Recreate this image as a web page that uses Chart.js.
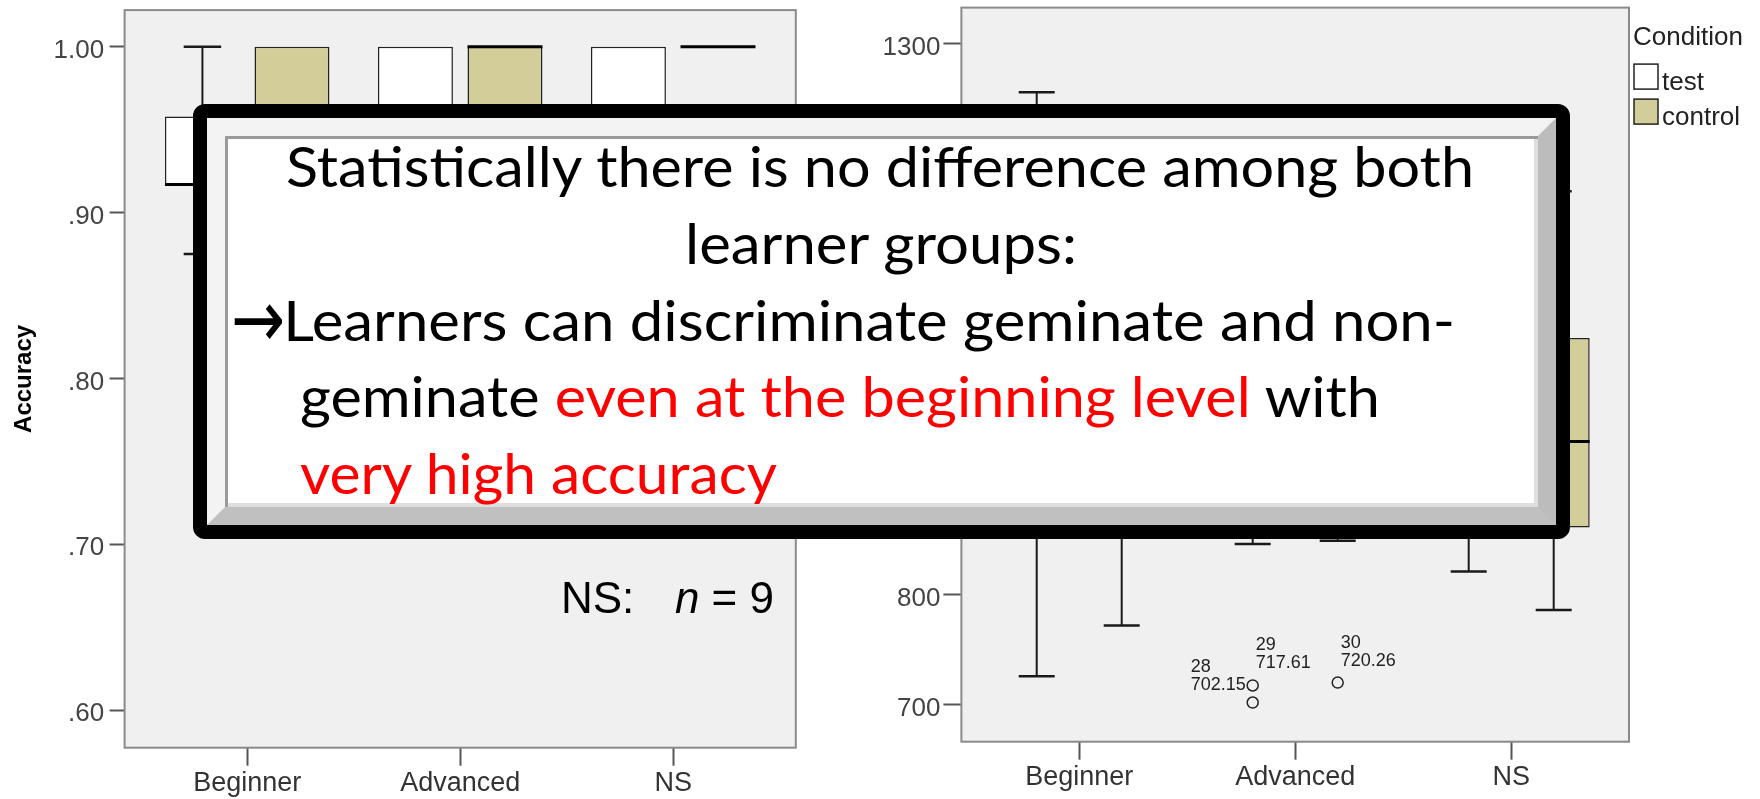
<!DOCTYPE html>
<html>
<head>
<meta charset="utf-8">
<script src="https://cdn.jsdelivr.net/npm/chart.js@4.4.1/dist/chart.umd.min.js"></script>
<style>
  html, body { margin: 0; padding: 0; background: #fff; width: 1760px; height: 799px; overflow: hidden; }
  /* canvases start a little above the page so the plot tops land where the slide has them */
  #accChart { position: absolute; left: 0; top: -11px; }
  #rtChart { position: absolute; left: 880px; top: -11px; }
  #note { position: absolute; left: 193px; top: 104px; width: 1377px; height: 435px; box-sizing: border-box;
          border: 14px solid #000; border-radius: 12px; background: #fff; }
  #bevel { position: absolute; left: 0; top: 0; right: 0; bottom: 0; border: 18px solid;
           border-color: #f3f3f3 #bcbcbc #c0c0c0 #f3f3f3;
           box-shadow: inset 3px 3px 0 #9a9a9a, inset -4px -4px 0 #dedede; }
  .line { position: absolute; white-space: nowrap; font-family: Lato, "Open Sans", sans-serif; font-size: 56px;
          line-height: 56px; color: #000; transform-origin: 0 0; }
  .red { color: #f00; }
  .arrow { font-family: "DejaVu Sans", sans-serif; display: inline-block; transform: translateY(-3px) scale(1.08, 1.45); }
</style>
</head>
<body>
<canvas id="accChart" width="860" height="810"></canvas>
<canvas id="rtChart" width="880" height="810"></canvas>
<div id="note"><div id="bevel"></div></div>
<div class="line" data-left="286" data-width="1188" data-baseline="188">Statistically there is no difference among both</div>
<div class="line" data-left="685" data-width="392" data-baseline="265">learner groups:</div>
<div class="line" data-left="233" data-width="1222" data-baseline="342"><span class="arrow">→</span>Learners can discriminate geminate and non-</div>
<div class="line" data-left="300" data-width="1080" data-baseline="418">geminate <span class="red">even at the beginning level</span> with</div>
<div class="line" data-left="300" data-width="477" data-baseline="495"><span class="red">very high accuracy</span></div>
<script>
const groups = ["Beginner", "Advanced", "NS"];
const conditions = ["test", "control"];
const conditionColors = ["#ffffff", "#d3ce99"];

// Accuracy panel
const accTicks = [0.6, 0.7, 0.8, 0.9, 1.0];
const accTestLow = [0.875, 0.875, 0.917];
const accTestQ1 = [0.917, 0.927, 0.938];
const accTestMedian = [0.917, 0.958, 0.958];
const accTestQ3 = [0.958, 1.0, 1.0];
const accTestHigh = [1.0, 1.0, 1.0];
const accControlLow = [0.833, 0.917, 1.0];
const accControlQ1 = [0.917, 0.958, 1.0];
const accControlMedian = [0.958, 1.0, 1.0];
const accControlQ3 = [1.0, 1.0, 1.0];
const accControlHigh = [1.0, 1.0, 1.0];
const nsCount = 9;

// Reaction time panel
const rtTicks = [700, 800, 900, 1000, 1100, 1200, 1300];
const rtTestLow = [726, 846, 821];
const rtTestQ1 = [905, 880, 870];
const rtTestMedian = [1010, 950, 930];
const rtTestQ3 = [1120, 1040, 1010];
const rtTestHigh = [1256, 1180, 1120];
const rtControlLow = [772, 849, 786];
const rtControlQ1 = [880, 885, 861];
const rtControlMedian = [965, 960, 939];
const rtControlQ3 = [1080, 1050, 1033];
const rtControlHigh = [1210, 1190, 1166];
const rtOutlierCase = [28, 29, 30];
const rtOutlierValue = [702.15, 717.61, 720.26];
const rtOutlierGroup = ["Advanced", "Advanced", "Advanced"];
const rtOutlierCondition = ["test", "test", "control"];

Chart.defaults.font.family = "'Liberation Sans', Arial, sans-serif";

function boxDatasets(sets, cp, bp) {
  return sets.map((s, k) => ({
    label: conditions[k],
    data: groups.map((g, i) => ({ x: i + 1, y: [s.q1[i], s.q3[i]] })),
    backgroundColor: conditionColors[k],
    borderColor: "#222",
    borderWidth: 1.5,
    borderSkipped: false,
    categoryPercentage: cp,
    barPercentage: bp,
    low: s.low, median: s.median, high: s.high,
  }));
}

function groupAxis(pad, height) {
  return {
    type: "linear", offset: false, min: 1 - pad, max: groups.length + pad,
    afterBuildTicks: (s) => { s.ticks = groups.map((g, i) => ({ value: i + 1 })); },
    afterFit: (s) => { s.height = height; },
    ticks: { callback: (v, i) => groups[i], font: { size: 27 }, color: "#333", padding: 2, maxRotation: 0, autoSkip: false },
    grid: { drawOnChartArea: false, offset: false, tickLength: 18, tickWidth: 2, tickColor: "#555" },
    border: { display: false },
  };
}

function valueAxis(min, max, tickValues, width, tickLength, padding, format) {
  return {
    min, max,
    afterBuildTicks: (s) => { s.ticks = tickValues.map((v) => ({ value: v })); },
    afterFit: (s) => { s.width = width; },
    ticks: { callback: format, font: { size: 26 }, color: "#444", padding, labelOffset: 4 },
    grid: { drawOnChartArea: false, tickLength, tickWidth: 2, tickColor: "#555" },
    border: { display: false },
  };
}

function line(ctx, x1, y1, x2, y2, w) {
  ctx.lineWidth = w;
  ctx.beginPath(); ctx.moveTo(x1, y1); ctx.lineTo(x2, y2); ctx.stroke();
}

// plot frame, whiskers, caps, medians
const boxWhiskers = {
  id: "boxWhiskers",
  beforeDatasetsDraw(chart) {
    const { ctx, chartArea: a } = chart;
    ctx.save();
    ctx.fillStyle = "#f0f0f0";
    ctx.fillRect(a.left, a.top, a.width, a.height);
    ctx.strokeStyle = "#8a8a8a";
    ctx.lineWidth = 2;
    ctx.strokeRect(a.left, a.top, a.width, a.height);
    ctx.restore();
  },
  afterDatasetsDraw(chart) {
    const { ctx } = chart;
    const y = chart.scales.y;
    ctx.save();
    chart.data.datasets.forEach((ds, k) => {
      chart.getDatasetMeta(k).data.forEach((bar, i) => {
        const x = bar.x, half = bar.width / 2;
        const q1 = y.getPixelForValue(ds.data[i].y[0]);
        const q3 = y.getPixelForValue(ds.data[i].y[1]);
        const lo = y.getPixelForValue(ds.low[i]);
        const hi = y.getPixelForValue(ds.high[i]);
        ctx.strokeStyle = "#1a1a1a";
        if (ds.low[i] < ds.data[i].y[0]) {
          line(ctx, x, q1, x, lo, 2);
          line(ctx, x - half / 2, lo, x + half / 2, lo, 2.5);
        }
        if (ds.high[i] > ds.data[i].y[1]) {
          line(ctx, x, q3, x, hi, 2);
          line(ctx, x - half / 2, hi, x + half / 2, hi, 2.5);
        }
        const md = y.getPixelForValue(ds.median[i]);
        ctx.strokeStyle = "#000";
        line(ctx, x - half, md, x + half, md, 3);
      });
    });
    ctx.restore();
  },
};

const nsNote = {
  id: "nsNote",
  afterDraw(chart) {
    const { ctx } = chart;
    const base = chart.chartArea.top + 603;
    ctx.save();
    ctx.fillStyle = "#000";
    ctx.textBaseline = "alphabetic";
    ctx.font = "44px 'Liberation Sans', Arial, sans-serif";
    ctx.fillText(groups[2] + ":", 561, base);
    const tail = " = " + nsCount;
    const tailW = ctx.measureText(tail).width;
    ctx.textAlign = "right";
    ctx.fillText(tail, 774, base);
    ctx.font = "italic 44px 'Liberation Sans', Arial, sans-serif";
    ctx.fillText("n", 774 - tailW, base);
    ctx.restore();
  },
};

const outlierLabelSide = { 28: "left" };
const rtExtras = {
  id: "rtExtras",
  afterDraw(chart) {
    const { ctx, chartArea: a } = chart;
    const y = chart.scales.y;
    ctx.save();
    // outliers with case number and value
    ctx.strokeStyle = "#222";
    ctx.fillStyle = "#222";
    ctx.lineWidth = 1.5;
    ctx.font = "18px 'Liberation Sans', Arial, sans-serif";
    ctx.textBaseline = "middle";
    ctx.textAlign = "left";
    rtOutlierValue.forEach((v, j) => {
      const bar = chart.getDatasetMeta(conditions.indexOf(rtOutlierCondition[j])).data[groups.indexOf(rtOutlierGroup[j])];
      const px = bar.x, py = y.getPixelForValue(v);
      ctx.beginPath(); ctx.arc(px, py, 5.5, 0, Math.PI * 2); ctx.stroke();
      const lines = [String(rtOutlierCase[j]), v.toFixed(2)];
      let tx = px + 3, ty = py - 40;
      if (outlierLabelSide[rtOutlierCase[j]] === "left") {
        tx = px - 7 - Math.max(...lines.map((t) => ctx.measureText(t).width));
        ty = py - 35;
      }
      lines.forEach((t, n) => ctx.fillText(t, tx, ty + n * 18));
    });
    // legend
    ctx.textBaseline = "alphabetic";
    ctx.font = "26px 'Liberation Sans', Arial, sans-serif";
    ctx.fillStyle = "#222";
    ctx.fillText("Condition", a.right + 4, a.top + 37);
    conditions.forEach((c, k) => {
      const top = a.top + 56.5 + k * 35;
      ctx.fillStyle = conditionColors[k];
      ctx.fillRect(a.right + 5, top, 24, 25);
      ctx.strokeStyle = "#222";
      ctx.lineWidth = 1.5;
      ctx.strokeRect(a.right + 5, top, 24, 25);
      ctx.fillStyle = "#222";
      ctx.fillText(c, a.right + 33, top + 26);
    });
    ctx.restore();
  },
};

new Chart(document.getElementById("accChart"), {
  type: "bar",
  data: {
    datasets: boxDatasets([
      { low: accTestLow, q1: accTestQ1, median: accTestMedian, q3: accTestQ3, high: accTestHigh },
      { low: accControlLow, q1: accControlQ1, median: accControlMedian, q3: accControlQ3, high: accControlHigh },
    ], 0.841, 0.837),
  },
  options: {
    responsive: false, animation: false, devicePixelRatio: 1,
    layout: { padding: { top: 0, right: 64.2, bottom: 0, left: 0 } },
    plugins: { legend: { display: false }, tooltip: { enabled: false } },
    scales: {
      x: groupAxis(0.5756, 51.3),
      y: Object.assign(valueAxis(0.5773, 1.0221, accTicks, 124.6, 15, 5.5, (v) => v.toFixed(2).replace(/^0/, "")), {
        title: { display: true, text: "Accuracy", color: "#000", font: { size: 24, weight: "bold" }, padding: { top: 10, bottom: 0 } },
      }),
    },
  },
  plugins: [boxWhiskers, nsNote],
});

new Chart(document.getElementById("rtChart"), {
  type: "bar",
  data: {
    datasets: boxDatasets([
      { low: rtTestLow, q1: rtTestQ1, median: rtTestMedian, q3: rtTestQ3, high: rtTestHigh },
      { low: rtControlLow, q1: rtControlQ1, median: rtControlMedian, q3: rtControlQ3, high: rtControlHigh },
    ], 0.787, 0.847),
  },
  options: {
    responsive: false, animation: false, devicePixelRatio: 1,
    layout: { padding: { top: 0, right: 131, bottom: 0, left: 0 } },
    plugins: { legend: { display: false }, tooltip: { enabled: false } },
    scales: {
      x: groupAxis(0.5454, 57.3),
      y: valueAxis(666.6, 1332.7, rtTicks, 81.4, 18, 3, (v) => String(v)),
    },
  },
  plugins: [boxWhiskers, rtExtras],
});

// squeeze each note line to the width it has on the slide
document.querySelectorAll(".line").forEach((el) => {
  const natural = el.getBoundingClientRect().width;
  el.style.transform = "scaleX(" + (+el.dataset.width / natural) + ")";
  el.style.left = el.dataset.left + "px";
  el.style.top = (+el.dataset.baseline - 56 * 0.887) + "px";
});
</script>
</body>
</html>
